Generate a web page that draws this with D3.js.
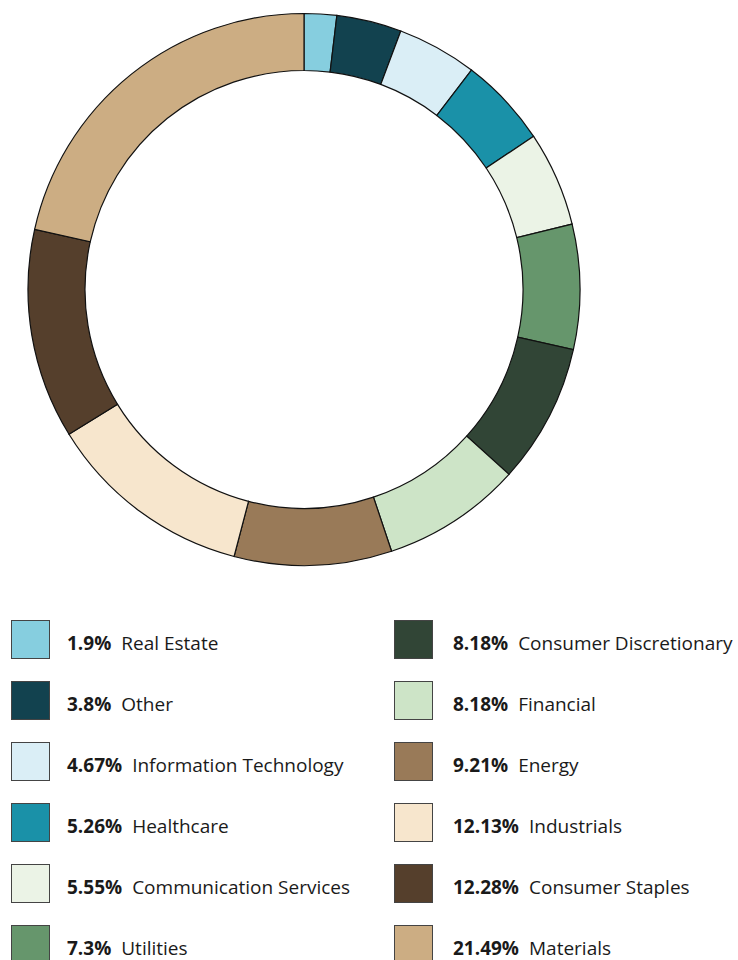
<!DOCTYPE html>
<html><head><meta charset="utf-8">
<script src="https://cdn.jsdelivr.net/npm/d3@7"></script>
<style>body{margin:0;background:#fff}svg{display:block}</style>
</head><body>
<script>
const categories = ["Real Estate","Other","Information Technology","Healthcare","Communication Services","Utilities","Consumer Discretionary","Financial","Energy","Industrials","Consumer Staples","Materials"];
const values = [1.9,3.8,4.67,5.26,5.55,7.3,8.18,8.18,9.21,12.13,12.28,21.49];
const colors = ["#86CEDF","#12424F","#DAEEF6","#1A91A8","#EBF3E6","#66966C","#314536","#CDE4C7","#997A58","#F7E6CD","#553F2C","#CCAD83"];

const W=738,H=960;
const svg=d3.select("body").append("svg").attr("width",W).attr("height",H);
const data=categories.map((c,i)=>({name:c,value:values[i],color:colors[i]}));
const pie=d3.pie().sort(null).value(d=>d.value);
const arc=d3.arc().innerRadius(219).outerRadius(276);
const g=svg.append("g").attr("transform","translate(304,289.5)");
g.selectAll("path").data(pie(data)).join("path")
 .attr("d",arc).attr("fill",d=>d.data.color).attr("stroke","#111").attr("stroke-width",1.2);

const leg=svg.append("g");
const rowsPerCol=6;
const item=leg.selectAll("g").data(data).join("g")
 .attr("transform",(d,i)=>`translate(${i<rowsPerCol?11:394},${620+(i%rowsPerCol)*61})`);
item.append("rect").attr("x",0.5).attr("y",0.5).attr("width",38).attr("height",38)
 .attr("fill",d=>d.color).attr("stroke","#444").attr("stroke-width",1);
const t=item.append("text").attr("x",(d,i)=>i<rowsPerCol?56:59).attr("y",30)
 .attr("font-family","'Open Sans', sans-serif").attr("font-size",19).attr("fill","#1a1a1a");
t.append("tspan").attr("font-weight","bold").text(d=>d.value+"%");
t.append("tspan").attr("dx",10).text(d=>d.name);
</script>
</body></html>
